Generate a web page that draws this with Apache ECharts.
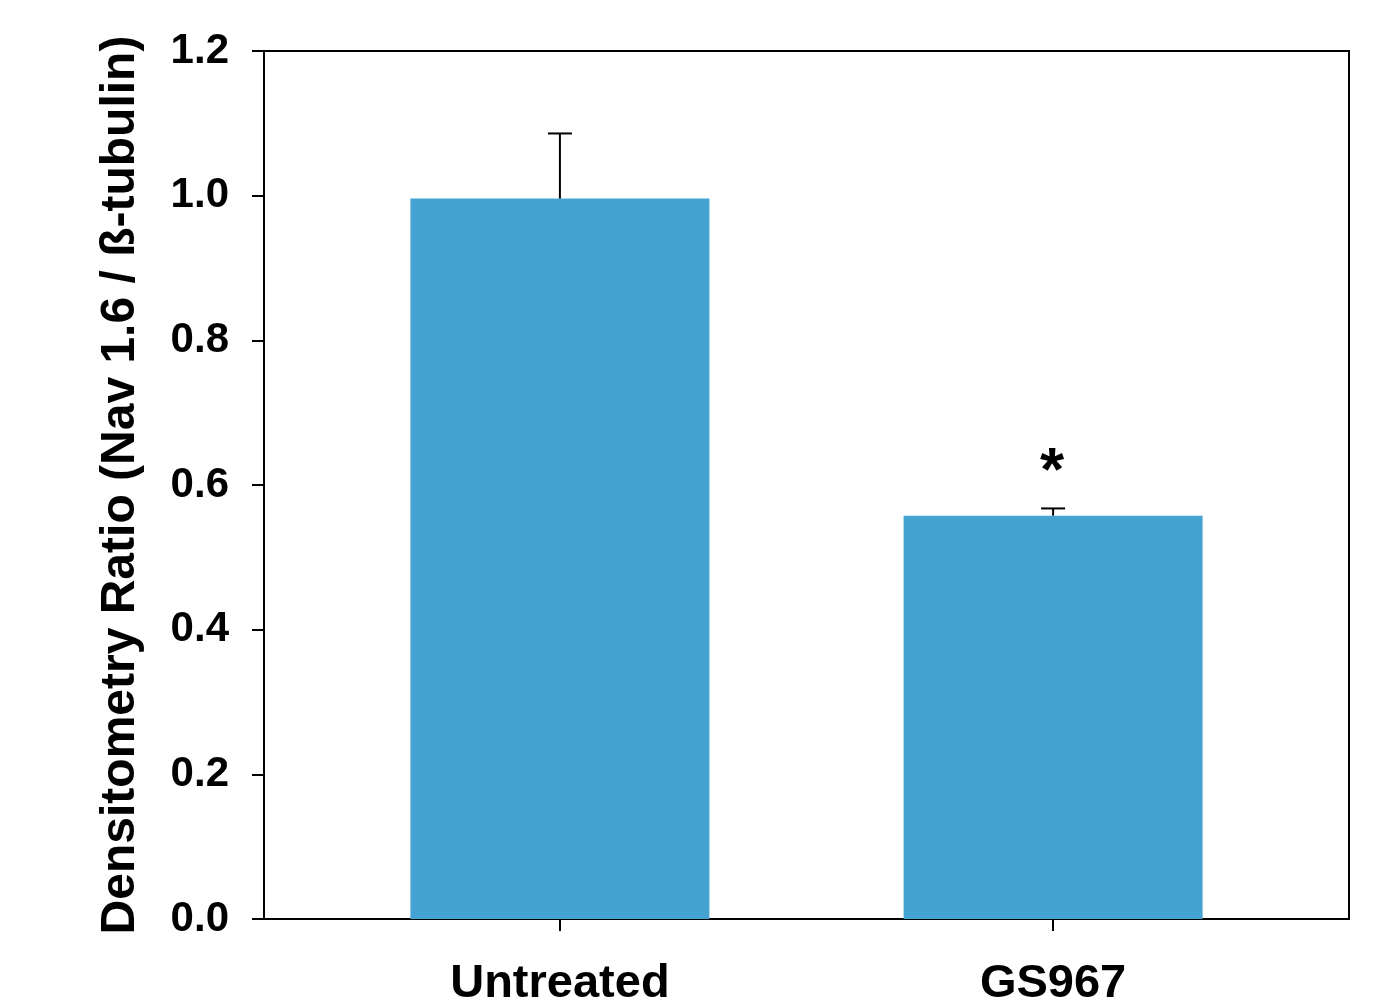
<!DOCTYPE html>
<html>
<head>
<meta charset="utf-8">
<script src="https://cdn.jsdelivr.net/npm/echarts@6/dist/echarts.min.js"></script>
<style>html,body{margin:0;padding:0;background:#fff}#c{width:1384px;height:1002px}</style>
</head>
<body>
<div id="c"></div>
<script>
const categories = ['Untreated', 'GS967'];
const positions = [1, 2];
const means = [0.996, 0.5576];
const errors = [0.090, 0.010];
const marks = ['', '*'];
const yTicks = [0, 0.2, 0.4, 0.6, 0.8, 1.0, 1.2];

const chart = echarts.init(document.getElementById('c'), null, {renderer: 'canvas'});
const FONT = '"Liberation Sans", Arial, sans-serif';

chart.setOption({
  animation: false,
  backgroundColor: '#fff',
  grid: {left: 264, top: 51, right: 35, bottom: 83, containLabel: false, outerBoundsMode: 'none',
         show: true, borderColor: '#000', borderWidth: 2, backgroundColor: 'transparent'},
  xAxis: {
    type: 'value', min: 0.4, max: 2.6,
    splitLine: {show: false},
    axisLine: {show: true, lineStyle: {color: '#000', width: 2}},
    axisTick: {show: true, inside: false, length: 12, customValues: positions, lineStyle: {color: '#000', width: 2}},
    axisLabel: {
      customValues: positions, margin: 42,
      fontFamily: FONT, fontWeight: 'bold', fontSize: 47, color: '#000',
      formatter: v => categories[positions.indexOf(v)] || ''
    }
  },
  yAxis: {
    type: 'value', min: 0, max: 1.2, interval: 0.2,
    splitLine: {show: false},
    axisLine: {show: true, lineStyle: {color: '#000', width: 2}},
    axisTick: {show: true, inside: false, length: 12, lineStyle: {color: '#000', width: 2}},
    axisLabel: {
      margin: 35, fontFamily: FONT, fontWeight: 'bold', fontSize: 42, color: '#000',
      formatter: v => yTicks.includes(Math.round(v * 10) / 10) ? v.toFixed(1) : ''
    },
    name: 'Densitometry Ratio (Nav 1.6 / ß-tubulin)',
    nameLocation: 'middle', nameGap: 119,
    nameTextStyle: {fontFamily: FONT, fontWeight: 'bold', fontSize: 48, color: '#000'}
  },
  series: [
    {
      type: 'bar',
      data: positions.map((p, i) => [p, means[i]]),
      barWidth: 299,
      itemStyle: {color: '#45A3D1'},
      z: 2
    },
    {
      type: 'custom',
      z: 5,
      data: positions.map((p, i) => [p, means[i], errors[i], i]),
      renderItem: function (params, api) {
        const x = api.value(0), m = api.value(1), e = api.value(2), idx = api.value(3);
        const base = api.coord([x, m]);
        const top = api.coord([x, m + e]);
        const half = 12;
        const style = {stroke: '#000', lineWidth: 2};
        const children = [
          {type: 'line', shape: {x1: base[0], y1: base[1], x2: top[0], y2: top[1]}, style: style},
          {type: 'line', shape: {x1: top[0] - half, y1: top[1], x2: top[0] + half, y2: top[1]}, style: style}
        ];
        const mk = marks[idx];
        if (mk) {
          children.push({type: 'text', style: {text: mk, x: top[0] - 1, y: top[1] - 36, align: 'center', verticalAlign: 'middle', fontFamily: FONT, fontWeight: 'bold', fontSize: 62, fill: '#000'}});
        }
        return {type: 'group', children: children};
      }
    }
  ]
});
</script>
</body>
</html>
